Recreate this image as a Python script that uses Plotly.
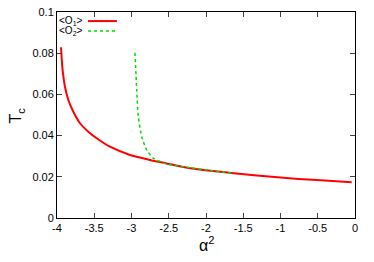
import plotly.graph_objects as go

# Data
o1_alpha2 = [-3.946, -3.929, -3.893, -3.848, -3.781, -3.691, -3.580, -3.467, -3.289, -3.020,
             -2.752, -2.53, -2.215, -1.63, -1.0, -0.51, -0.044]
o1_tc = [0.0829, 0.0734, 0.0637, 0.0573, 0.0516, 0.0460, 0.0419, 0.0387, 0.0346, 0.0306,
         0.0282, 0.0265, 0.0241, 0.0217, 0.0196, 0.0184, 0.0173]

o2_alpha2 = [-2.953, -2.930, -2.909, -2.863, -2.796, -2.707, -2.528, -2.215, -1.655]
o2_tc = [0.0802, 0.0621, 0.0492, 0.0395, 0.0330, 0.0290, 0.0262, 0.0244, 0.0217]

x_ticks = [-4, -3.5, -3, -2.5, -2, -1.5, -1, -0.5, 0]
x_tick_labels = ["-4", "-3.5", "-3", "-2.5", "-2", "-1.5", "-1", "-0.5", "0"]
y_ticks = [0, 0.02, 0.04, 0.06, 0.08, 0.1]
y_tick_labels = ["0", "0.02", "0.04", "0.06", "0.08", "0.1"]

fig = go.Figure()
fig.add_trace(go.Scatter(x=o1_alpha2, y=o1_tc, mode="lines",
                         line=dict(color="#ff0000", width=2, shape="spline", smoothing=0.6), showlegend=False))
fig.add_trace(go.Scatter(x=o2_alpha2, y=o2_tc, mode="lines",
                         line=dict(color="#00dd00", width=1.5, dash="dot", shape="spline", smoothing=0.6), showlegend=False))

font = dict(family="Liberation Sans, Arial, sans-serif", color="black")

# page body has an 8px margin, so the figure is sized to fit inside the window
fig.update_layout(
    width=366, height=254,
    margin=dict(l=49, r=19, t=4, b=44),
    paper_bgcolor="white", plot_bgcolor="white",
    font=dict(size=11, **font),
    xaxis=dict(range=[-4, 0], tickvals=x_ticks, ticktext=x_tick_labels, ticks="inside", ticklen=5,
               showline=True, linecolor="black", linewidth=1, mirror="ticks", showgrid=False, zeroline=False,
               tickfont=dict(size=11), automargin=False, ticklabeloverflow="allow"),
    yaxis=dict(range=[0, 0.1], tickvals=y_ticks, ticktext=y_tick_labels, ticks="inside", ticklen=5,
               showline=True, linecolor="black", linewidth=1, mirror="ticks", showgrid=False, zeroline=False,
               tickfont=dict(size=11), automargin=False, ticklabeloverflow="allow"),
)

# Axis titles
fig.add_annotation(xref="paper", yref="paper", x=0.5, y=-0.126, text="α<sup>2</sup>", showarrow=False,
                   xanchor="center", yanchor="middle", font=dict(size=16, **font))
fig.add_annotation(xref="paper", yref="paper", x=-0.136, y=0.5, text="T<sub>c</sub>", showarrow=False,
                   textangle=-90, xanchor="center", yanchor="middle", font=dict(size=16, **font))

# Legend (gnuplot style: label then line sample)
legend_items = [("&lt;O<sub>1</sub>&gt;", "#ff0000", "solid", 2), ("&lt;O<sub>2</sub>&gt;", "#00dd00", "dot", 1.5)]
for i, (lab, col, dash, w) in enumerate(legend_items):
    yp = 0.956 - i * 0.048
    fig.add_annotation(xref="paper", yref="paper", x=0.0, y=yp, text=lab, showarrow=False,
                       xanchor="left", yanchor="middle", font=dict(size=10, **font))
    fig.add_shape(type="line", xref="paper", yref="paper", x0=0.104, x1=0.201, y0=yp, y1=yp,
                  line=dict(color=col, width=w, dash=dash))

fig.write_html("out.html")
